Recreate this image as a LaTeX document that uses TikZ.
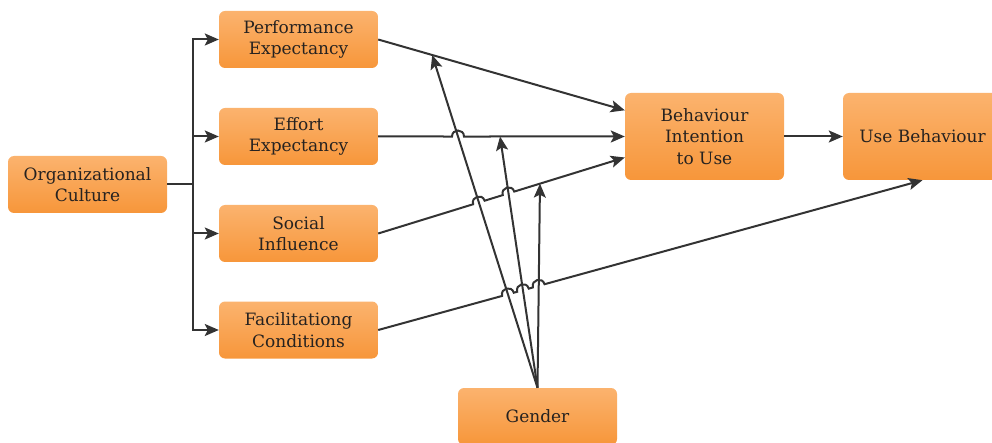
\documentclass[tikz,border=0pt]{standalone}
\usepackage{fontspec}
\newfontfamily\boxfont{DejaVu Serif}
\usetikzlibrary{calc,arrows.meta}
\definecolor{boxtop}{HTML}{FBB36E}
\definecolor{boxbot}{HTML}{F7963A}
\definecolor{ink}{HTML}{333333}
\definecolor{txt}{HTML}{262220}
\begin{document}
\begin{tikzpicture}[x=1pt,y=1pt,
  box/.style={rounded corners=6pt, top color=boxtop, bottom color=boxbot, draw=none,
    minimum width=159pt, minimum height=57pt, align=center, text=txt, inner sep=0pt,
    font=\boxfont\fontsize{17}{21.5}\selectfont},
  tall/.style={box, minimum height=87pt},
  link/.style={draw=ink, line width=2pt},
  arrow/.style={link, -{Stealth[length=14pt,width=12pt,inset=3pt]}},
  hop/.style={bend left=90, looseness=1.7}
]
\useasboundingbox (0,0) rectangle (992,-443);
\clip (0,0) rectangle (992,-443);

% boxes
\node[box]  (org) at (87.5,-184.5) {Organizational\\Culture};
\node[box]  (pe)  at (298.5,-39.5) {Performance\\Expectancy};
\node[box]  (ee)  at (298.5,-136.5) {Effort\\Expectancy};
\node[box]  (si)  at (298.5,-233.5) {Social\\Influence};
\node[box]  (fc)  at (298.5,-330) {Facilitationg\\Conditions};
\node[tall] (bi)  at (704.5,-136.5) {Behaviour\\Intention\\to Use};
\node[tall] (ub)  at (922.5,-136.5) {Use Behaviour};
\node[box]  (gd)  at (537.5,-416.5) {Gender};

% fan-out from organizational culture
\coordinate (tr) at (193,-184.5);
\draw[link] (org.east) -- (tr);
\draw[link, line cap=rect] (tr |- pe.west) -- (tr |- fc.west);
\foreach \n in {pe,ee,si,fc}
  \draw[arrow] (tr |- \n.west) -- (\n.west);

% entry points on the intention box
\coordinate (b1) at ($(bi.north west)!0.2!(bi.south west)$);
\coordinate (b2) at (bi.west);
\coordinate (b3) at ($(bi.north west)!0.74!(bi.south west)$);

% moderator targets on the paths
\coordinate (t1) at ($(pe.east)!0.219!(b1)$);
\coordinate (t2) at ($(ee.east)!0.494!(b2)$);
\coordinate (t3) at ($(si.east)!0.656!(b3)$);

% crossings that get a line jump
\coordinate (x1) at (intersection of ee.east--b2 and gd.north--t1);
\coordinate (x2) at (intersection of si.east--b3 and gd.north--t1);
\coordinate (x3) at (intersection of si.east--b3 and gd.north--t2);
\coordinate (x4) at (intersection of fc.east--ub.south and gd.north--t1);
\coordinate (x5) at (intersection of fc.east--ub.south and gd.north--t2);
\coordinate (x6) at (intersection of fc.east--ub.south and gd.north--t3);

% main paths
\draw[arrow] (pe.east) -- (b1);
\draw[arrow] (ee.east) -- ($(x1)!6pt!(ee.east)$) to[hop] ($(x1)!6pt!(b2)$) -- (b2);
\draw[arrow] (si.east) -- ($(x2)!6pt!(si.east)$) to[hop] ($(x2)!6pt!(b3)$)
  -- ($(x3)!6pt!(si.east)$) to[hop] ($(x3)!6pt!(b3)$) -- (b3);
\draw[arrow] (fc.east) -- ($(x4)!6pt!(fc.east)$) to[hop] ($(x4)!6pt!(ub.south)$)
  -- ($(x5)!6pt!(fc.east)$) to[hop] ($(x5)!6pt!(ub.south)$)
  -- ($(x6)!6pt!(fc.east)$) to[hop] ($(x6)!6pt!(ub.south)$) -- (ub.south);
\draw[arrow] (bi.east) -- (ub.west);

% moderator arrows
\foreach \t in {t1,t2,t3}
  \draw[arrow] (gd.north) -- (\t);
\end{tikzpicture}
\end{document}
